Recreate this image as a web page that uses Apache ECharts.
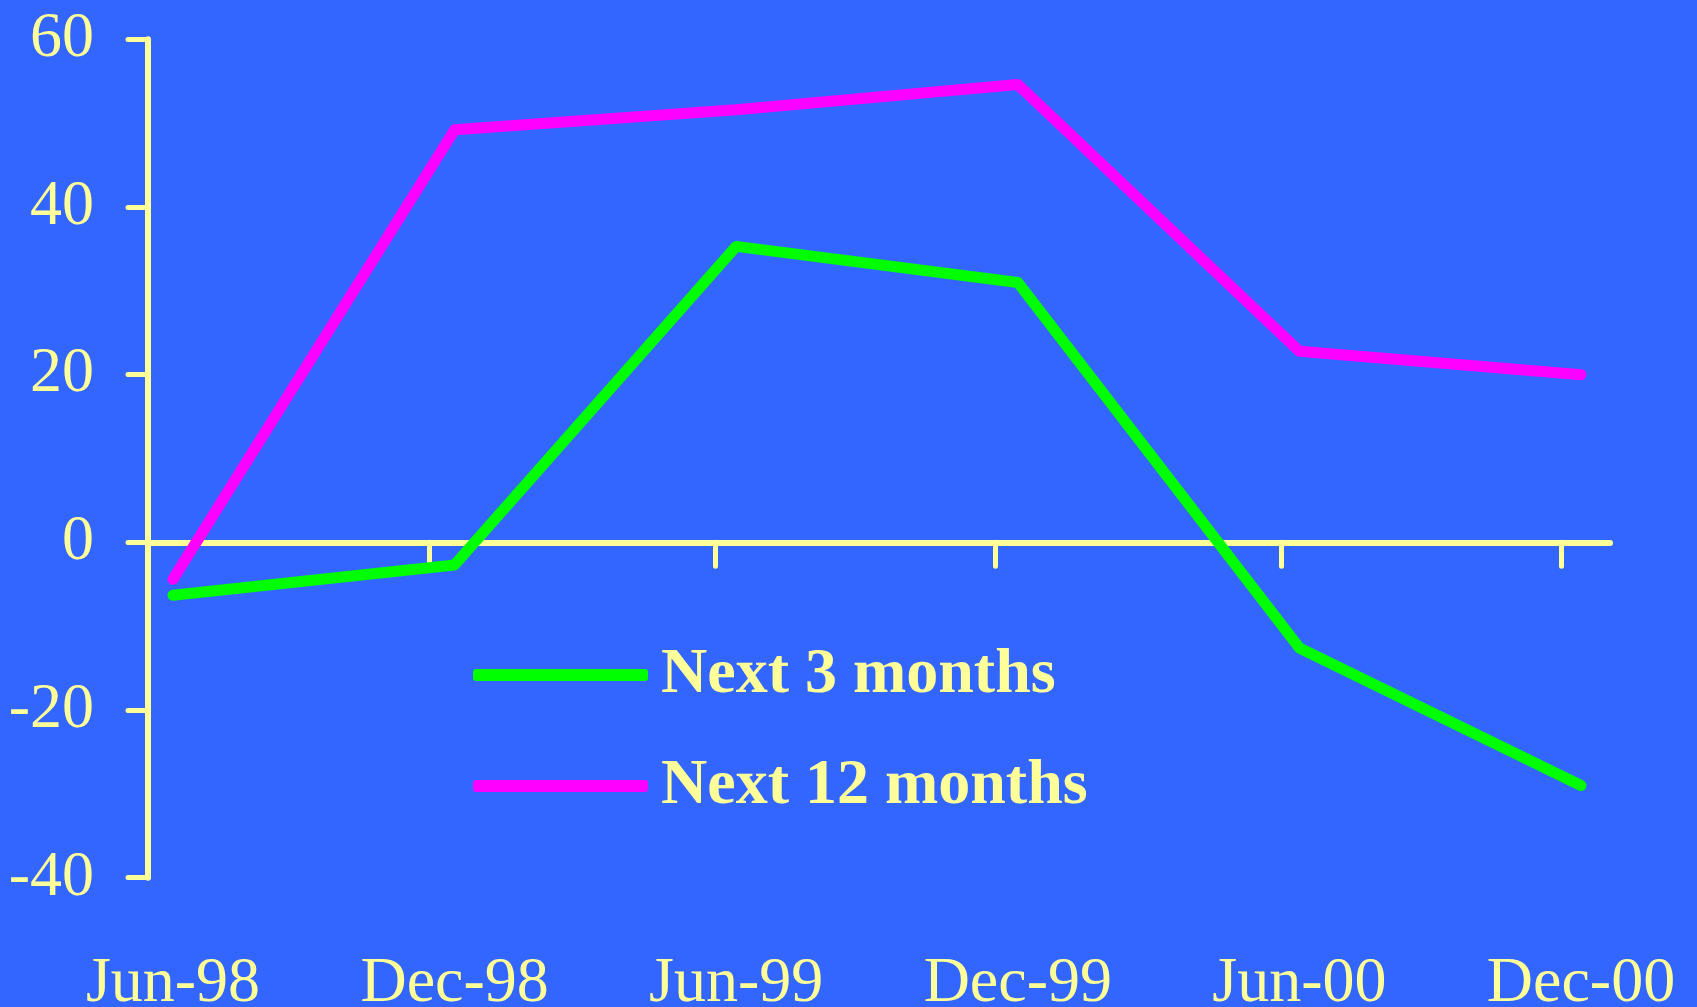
<!DOCTYPE html>
<html>
<head>
<meta charset="utf-8">
<title>Expectations</title>
<script src="https://cdn.jsdelivr.net/npm/echarts@6/dist/echarts.min.js"></script>
<style>
  html, body { margin: 0; padding: 0; background: #3366FF; }
  #chart { width: 1697px; height: 1007px; }
</style>
</head>
<body>
<div id="chart"></div>
<script>
// Survey periods along the bottom
var categories = ['Jun-98', 'Dec-98', 'Jun-99', 'Dec-99', 'Jun-00', 'Dec-00'];

// Net balances for each horizon
var next3Months = [-6.3, -2.7, 35.3, 31.0, -12.6, -29.0];
var next12Months = [-4.4, 49.2, 51.6, 54.6, 22.8, 20.0];

// Value axis range and step
var yMin = -40;
var yMax = 60;
var yStep = 20;

var ink = '#FFFF99';
var serif = '"Liberation Serif", "Times New Roman", serif';

// The frame grid holds the drawn axes; the data grid is inset so the
// points sit a little to the right of the category ticks.
var bandWidth = 281.6;
var frameLeft = 148, frameWidth = 1462;
var dataLeft = 173, dataWidth = bandWidth * 5;
var plotTop = 39.3, plotHeight = 838.4;

// Category divider ticks on the zero line, in band units from the left axis
var dividerTicks = [0, 1.0, 2.015, 3.007, 4.025, 5.017];

var chart = echarts.init(document.getElementById('chart'));
chart.setOption({
  backgroundColor: '#3366FF',
  animation: false,
  grid: [
    { left: frameLeft, top: plotTop, width: frameWidth, height: plotHeight, containLabel: false, outerBoundsMode: 'none' },
    { left: dataLeft, top: plotTop, width: dataWidth, height: plotHeight, containLabel: false, outerBoundsMode: 'none' }
  ],
  xAxis: [
    {
      type: 'value',
      gridIndex: 0,
      min: 0,
      max: frameWidth / bandWidth,
      axisLine: { show: true, onZero: true, lineStyle: { color: ink, width: 6, cap: 'round' } },
      axisTick: { show: true, customValues: dividerTicks, length: 24, lineStyle: { color: ink, width: 5, cap: 'round' } },
      axisLabel: { show: false },
      splitLine: { show: false }
    },
    {
      type: 'category',
      gridIndex: 1,
      boundaryGap: false,
      data: categories,
      axisLine: { show: false },
      axisTick: { show: false },
      splitLine: { show: false },
      axisLabel: { color: ink, fontFamily: serif, fontSize: 64, margin: 74 }
    }
  ],
  yAxis: [
    {
      type: 'value',
      gridIndex: 0,
      min: yMin,
      max: yMax,
      interval: yStep,
      axisLine: { show: true, lineStyle: { color: ink, width: 6, cap: 'round' } },
      axisTick: { show: true, length: 20, lineStyle: { color: ink, width: 5, cap: 'round' } },
      splitLine: { show: false },
      axisLabel: { color: ink, fontFamily: serif, fontSize: 64, margin: 54, padding: [0, 0, 14, 0] }
    },
    {
      type: 'value',
      gridIndex: 1,
      min: yMin,
      max: yMax,
      show: false,
      splitLine: { show: false }
    }
  ],
  legend: {
    orient: 'vertical',
    left: 468,
    top: 638,
    icon: 'roundRect',
    itemWidth: 175,
    itemHeight: 12,
    itemGap: 47,
    selectedMode: false,
    textStyle: { color: ink, fontFamily: serif, fontSize: 64, fontWeight: 'bold', padding: [0, 0, 0, 8] },
    data: ['Next 3 months', 'Next 12 months']
  },
  series: [
    {
      name: 'Next 3 months',
      type: 'line',
      xAxisIndex: 1,
      yAxisIndex: 1,
      data: next3Months,
      symbol: 'none',
      color: '#00FF00',
      lineStyle: { color: '#00FF00', width: 11, cap: 'round', join: 'round' }
    },
    {
      name: 'Next 12 months',
      type: 'line',
      xAxisIndex: 1,
      yAxisIndex: 1,
      data: next12Months,
      symbol: 'none',
      color: '#FF00FF',
      lineStyle: { color: '#FF00FF', width: 11, cap: 'round', join: 'round' }
    }
  ]
});
</script>
</body>
</html>
